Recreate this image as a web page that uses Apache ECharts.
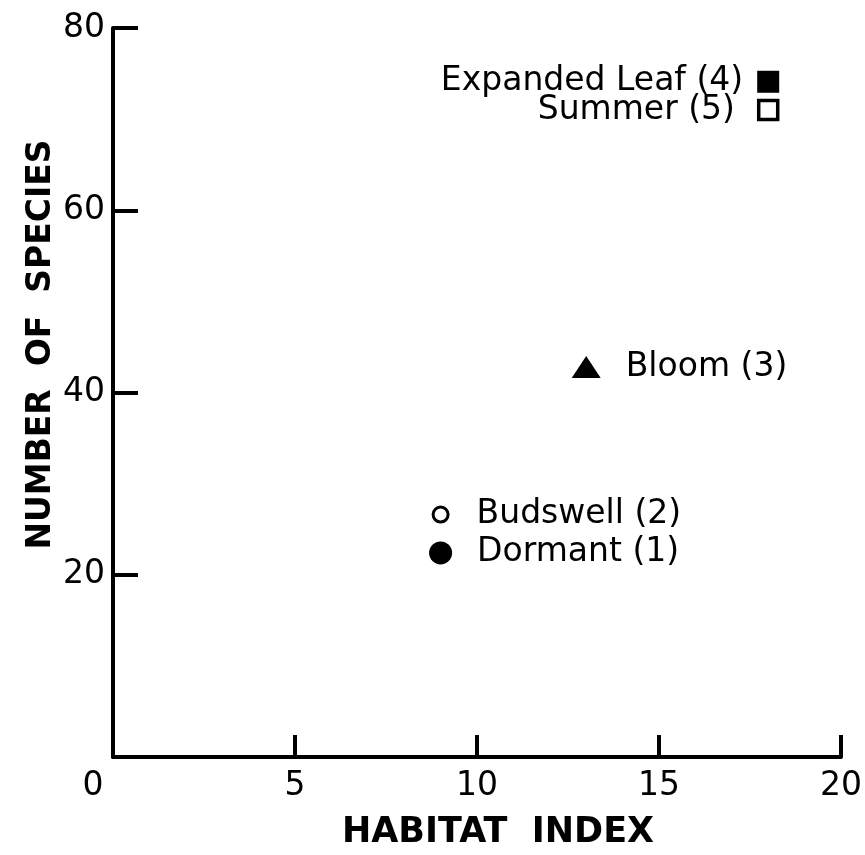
<!DOCTYPE html>
<html>
<head>
<meta charset="utf-8">
<script src="https://cdn.jsdelivr.net/npm/echarts@6/dist/echarts.min.js"></script>
<style>
  html, body { margin: 0; padding: 0; background: #fff; overflow: hidden; width: 865px; height: 855px; }
  #chart { position: absolute; left: 0; top: 0; width: 865px; height: 855px; }
</style>
</head>
<body>
<div id="chart"></div>
<script>
// stages: name, habitat index, number of species
var stageNames = ['Dormant (1)', 'Budswell (2)', 'Bloom (3)', 'Expanded Leaf (4)', 'Summer (5)'];
var habitatIndex = [9, 9, 13, 18, 18];
var speciesCount = [22.4, 26.6, 42.8, 74.1, 71.0];
var xTicks = [0, 5, 10, 15, 20];
var yTicks = [0, 20, 40, 60, 80];

var font = '"DejaVu Sans", "Liberation Sans", sans-serif';

// marker look per stage
var looks = [
  { symbol: 'circle', size: 23, fill: '#000', sw: 0, pos: 'right', dist: 25 },
  { symbol: 'circle', size: 15, fill: '#fff', sw: 3, pos: 'right', dist: 27 },
  { symbol: 'triangle', size: [29, 22], fill: '#000', sw: 0, pos: 'right', dist: 25 },
  { symbol: 'rect', size: 22, fill: '#000', sw: 0, pos: 'left', dist: 14 },
  { symbol: 'rect', size: 19, fill: '#fff', sw: 3.5, pos: 'left', dist: 22 }
];

var points = stageNames.map(function (n, i) {
  var lk = looks[i];
  return {
    name: n,
    value: [habitatIndex[i], speciesCount[i]],
    symbol: lk.symbol,
    symbolSize: lk.size,
    itemStyle: { color: lk.fill, borderColor: '#000', borderWidth: lk.sw, opacity: 1 },
    label: {
      show: true,
      position: lk.pos,
      distance: lk.dist,
      formatter: '{b}',
      color: '#000',
      fontFamily: font,
      fontSize: 33
    }
  };
});

var chart = echarts.init(document.getElementById('chart'));
chart.setOption({
  animation: false,
  backgroundColor: '#fff',
  grid: { left: 113, right: 16, top: 28, bottom: 96, containLabel: false },
  xAxis: {
    type: 'value',
    min: xTicks[0], max: xTicks[xTicks.length - 1], interval: 5,
    name: 'HABITAT  INDEX',
    nameLocation: 'middle',
    nameGap: 58,
    nameMoveOverlap: false,
    nameTextStyle: { color: '#000', fontFamily: font, fontSize: 35, fontWeight: 'bold', padding: [0, 0, 0, 42] },
    axisLine: { show: true, onZero: false, lineStyle: { color: '#000', width: 4 } },
    axisTick: { show: true, inside: true, length: 22, lineStyle: { color: '#000', width: 4 } },
    axisLabel: {
      color: '#000', fontFamily: font, fontSize: 33, margin: 13,
      formatter: function (v) { return v === 0 ? '{z|0}' : String(v); },
      rich: { z: { fontFamily: font, fontSize: 33, color: '#000', padding: [0, 40, 0, 0] } }
    },
    splitLine: { show: false }
  },
  yAxis: {
    type: 'value',
    min: yTicks[0], max: yTicks[yTicks.length - 1], interval: 20,
    name: 'NUMBER  OF  SPECIES',
    nameLocation: 'middle',
    nameGap: 55,
    nameMoveOverlap: false,
    nameTextStyle: { color: '#000', fontFamily: font, fontSize: 33, fontWeight: 'bold', padding: [0, 0, 0, 96] },
    axisLine: { show: true, onZero: false, lineStyle: { color: '#000', width: 4 } },
    axisTick: { show: true, inside: true, length: 25, lineStyle: { color: '#000', width: 4 } },
    axisLabel: {
      color: '#000', fontFamily: font, fontSize: 33, margin: 8,
      formatter: function (v) { return v === 0 ? '' : String(v); }
    },
    splitLine: { show: false }
  },
  series: [{
    type: 'scatter',
    data: points,
    emphasis: { disabled: true }
  }]
});
</script>
</body>
</html>
